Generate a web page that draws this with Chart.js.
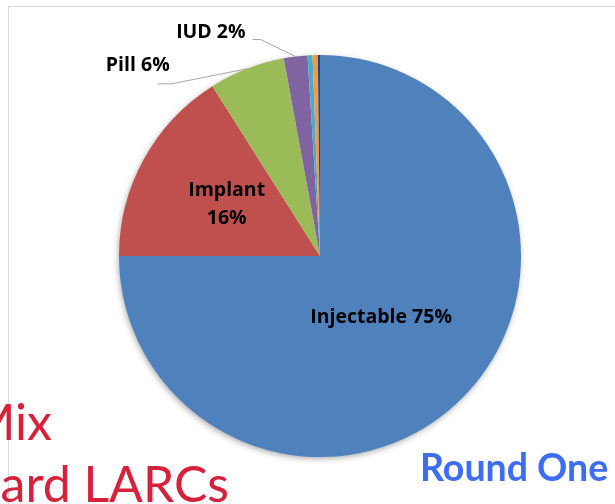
<!DOCTYPE html>
<html>
<head>
<meta charset="utf-8">
<script src="https://cdn.jsdelivr.net/npm/chart.js@4"></script>
<style>
    html, body { margin: 0; padding: 0; background: #fff; }
    #wrap { position: relative; width: 615px; height: 504px; overflow: hidden; }
    #frame { position: absolute; left: 8px; top: 6px; width: 700px; height: 600px;
             border-left: 1px solid #d9d9d9; border-top: 1px solid #d9d9d9; }
    canvas { position: absolute; left: 0; top: 0; }
    .side { position: absolute; font-family: Lato, sans-serif; color: #d7203a; font-size: 50px;
            white-space: nowrap; text-align: right; line-height: 1; }
    #round { position: absolute; left: 420px; top: 448px; font-family: Lato, sans-serif;
             font-weight: bold; font-size: 37.5px; color: #3c6df2; white-space: nowrap; line-height: 1; }
</style>
</head>
<body>
<div id="wrap">
    <div id="frame"></div>
    <canvas id="pie" width="615" height="504"></canvas>
    <div class="side" style="right: 563px; top: 396px;">Mix</div>
    <div class="side" style="right: 386px; top: 458px;">ard LARCs</div>
    <div id="round">Round One</div>
</div>
<script>
    "use strict";

    // values, clockwise from 12 o'clock
    const methods = ['Injectable', 'Implant', 'Pill', 'IUD', 'Other A', 'Other B', 'Other C'];
    const shares = [75, 16, 6.1, 1.9, 0.4, 0.42, 0.17];
    const shownLabels = ['Injectable 75%', 'Implant\n16%', 'Pill 6%', 'IUD 2%', '', '', ''];
    const sliceColors = ['#4f81bd', '#c0504d', '#9bbb59', '#8064a2', '#4bacc6', '#f79646', '#1f497d'];

    const shadowPlugin = {
        id: 'pieShadow',
        beforeDatasetsDraw(chart) {
            const arc = chart.getDatasetMeta(0).data[0];
            if (!arc) return;
            const ctx = chart.ctx;
            ctx.save();
            ctx.shadowColor = 'rgba(0,0,0,0.35)';
            ctx.shadowBlur = 6;
            ctx.shadowOffsetX = -1;
            ctx.shadowOffsetY = 2;
            ctx.fillStyle = '#ffffff';
            ctx.beginPath();
            ctx.arc(arc.x, arc.y, arc.outerRadius - 0.5, 0, Math.PI * 2);
            ctx.fill();
            ctx.restore();
        },
    };

    const labelPlugin = {
        id: 'sliceLabels',
        afterDatasetsDraw(chart) {
            const ctx = chart.ctx;
            const arcs = chart.getDatasetMeta(0).data;
            ctx.save();
            ctx.font = 'bold 19.5px "Open Sans", sans-serif';
            ctx.fillStyle = '#000';
            ctx.textBaseline = 'middle';

            // inside labels
            const inside = { 0: 0.43, 1: 0.53 };
            Object.keys(inside).forEach(function (k) {
                const a = arcs[k];
                const mid = (a.startAngle + a.endAngle) / 2;
                const r = a.outerRadius * inside[k];
                const cx = a.x + Math.cos(mid) * r;
                const cy = a.y + Math.sin(mid) * r;
                const lines = shownLabels[k].split('\n');
                ctx.textAlign = 'center';
                lines.forEach(function (ln, i) {
                    ctx.fillText(ln, cx, cy + (i - (lines.length - 1) / 2) * 28);
                });
            });

            // outside labels with leader lines
            const outside = [
                { i: 2, elbow: [-75, 15], end: [-89, 15], text: [-77, -3] },
                { i: 3, elbow: [-35, -17], end: [-43, -17], text: [-50, -24] },
            ];
            outside.forEach(function (o) {
                const a = arcs[o.i];
                const mid = (a.startAngle + a.endAngle) / 2;
                const px = a.x + Math.cos(mid) * a.outerRadius;
                const py = a.y + Math.sin(mid) * a.outerRadius;
                ctx.strokeStyle = '#a6a6a6';
                ctx.lineWidth = 1;
                ctx.beginPath();
                ctx.moveTo(px, py);
                ctx.lineTo(px + o.elbow[0], py + o.elbow[1]);
                ctx.lineTo(px + o.end[0], py + o.end[1]);
                ctx.stroke();
                ctx.textAlign = 'right';
                ctx.fillText(shownLabels[o.i], px + o.text[0], py + o.text[1]);
            });
            ctx.restore();
        },
    };

    new Chart(document.getElementById('pie'), {
        type: 'pie',
        data: {
            labels: methods,
            datasets: [{
                data: shares,
                backgroundColor: sliceColors,
                borderWidth: 0,
            }],
        },
        options: {
            responsive: false,
            animation: false,
            layout: { padding: { left: 119, right: 94, top: 55, bottom: 47 } },
            plugins: { legend: { display: false }, tooltip: { enabled: false } },
        },
        plugins: [shadowPlugin, labelPlugin],
    });
</script>
</body>
</html>
